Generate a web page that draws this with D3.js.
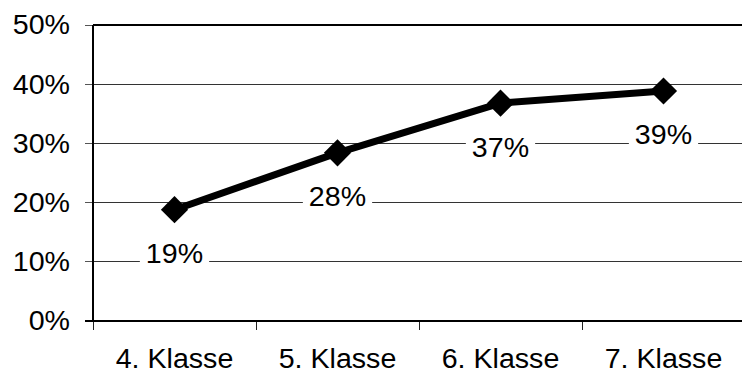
<!DOCTYPE html>
<html>
<head>
<meta charset="utf-8">
<script src="https://cdn.jsdelivr.net/npm/d3@7"></script>
<style>
  html, body { margin: 0; padding: 0; background: #fff; }
  svg { display: block; }
  text { font-family: "Liberation Sans", Arial, sans-serif; fill: #000; }
</style>
</head>
<body>
<svg id="chart" width="742" height="374"></svg>
<script>
const categories = ["4. Klasse", "5. Klasse", "6. Klasse", "7. Klasse"];
const values = [0.188, 0.284, 0.368, 0.3885];
const valueLabels = ["19%", "28%", "37%", "39%"];
const yTicks = [0, 0.1, 0.2, 0.3, 0.4, 0.5];

(function () {
const svg = d3.select("#chart");
const W = 742;
const mLeft = 93, mRight = 745, mTop = 25, mBottom = 321;
const fontSize = 27, stretch = 1.06;

const x = d3.scaleBand().domain(categories).range([mLeft, mRight]);
const y = d3.scaleLinear().domain([0, 0.5]).range([mBottom, mTop]);
const cx = c => x(c) + x.bandwidth() / 2;

// gridlines
svg.append("g").selectAll("line").data(yTicks.filter(t => t > 0 && t < 0.5)).join("line")
  .attr("x1", mLeft).attr("x2", W).attr("y1", d => y(d)).attr("y2", d => y(d))
  .attr("stroke", "#333").attr("stroke-width", 1).attr("shape-rendering", "crispEdges");

// y ticks
svg.append("g").selectAll("line").data(yTicks).join("line")
  .attr("x1", mLeft - 8).attr("x2", mLeft).attr("y1", d => y(d)).attr("y2", d => y(d))
  .attr("stroke", "#555").attr("stroke-width", 1).attr("shape-rendering", "crispEdges");

// y labels
svg.append("g").selectAll("text").data(yTicks).join("text")
  .attr("transform", d => `translate(70,${y(d)}) scale(${stretch},1)`)
  .attr("text-anchor", "end").attr("dy", "0.35em")
  .style("font-size", fontSize + "px")
  .text(d => d3.format(".0%")(d));

// x ticks at band boundaries
svg.append("g").selectAll("line").data(categories).join("line")
  .attr("x1", d => x(d)).attr("x2", d => x(d)).attr("y1", mBottom).attr("y2", mBottom + 9)
  .attr("stroke", "#222").attr("stroke-width", 1).attr("shape-rendering", "crispEdges");

// frame: top, left, bottom
svg.append("line").attr("x1", mLeft).attr("x2", W).attr("y1", mTop).attr("y2", mTop)
  .attr("stroke", "#000").attr("stroke-width", 2);
svg.append("line").attr("x1", mLeft - 8).attr("x2", W).attr("y1", mBottom).attr("y2", mBottom)
  .attr("stroke", "#000").attr("stroke-width", 2);
svg.append("line").attr("x1", mLeft).attr("x2", mLeft).attr("y1", mTop).attr("y2", mBottom)
  .attr("stroke", "#000").attr("stroke-width", 2);

// x labels
svg.append("g").selectAll("text").data(categories).join("text")
  .attr("transform", d => `translate(${cx(d)},368) scale(${stretch},1)`)
  .attr("text-anchor", "middle")
  .style("font-size", fontSize + "px")
  .text(d => d);

// line
const pts = categories.map((c, i) => ({ c, v: values[i], l: valueLabels[i] }));
svg.append("path").datum(pts)
  .attr("d", d3.line().x(d => cx(d.c)).y(d => y(d.v)))
  .attr("fill", "none").attr("stroke", "#000").attr("stroke-width", 7)
  .attr("stroke-linejoin", "round");

// markers (diamonds)
svg.append("g").selectAll("path").data(pts).join("path")
  .attr("d", d3.symbol().type(d3.symbolSquare).size(370))
  .attr("transform", d => `translate(${cx(d.c)},${y(d.v)}) rotate(45)`)
  .attr("fill", "#000");

// data labels with white background
const lg = svg.append("g").selectAll("g").data(pts).join("g")
  .attr("transform", d => `translate(${cx(d.c)},${y(d.v) + 44})`);
lg.append("text")
  .attr("text-anchor", "middle").attr("dy", "0.35em")
  .attr("transform", `scale(${stretch},1)`)
  .style("font-size", fontSize + "px")
  .text(d => d.l);
lg.each(function () {
  const g = d3.select(this);
  const bb = g.select("text").node().getBBox();
  g.insert("rect", "text")
    .attr("x", bb.x * stretch - 6).attr("y", bb.y)
    .attr("width", bb.width * stretch + 12).attr("height", bb.height)
    .attr("fill", "#fff");
});
})();
</script>
</body>
</html>
